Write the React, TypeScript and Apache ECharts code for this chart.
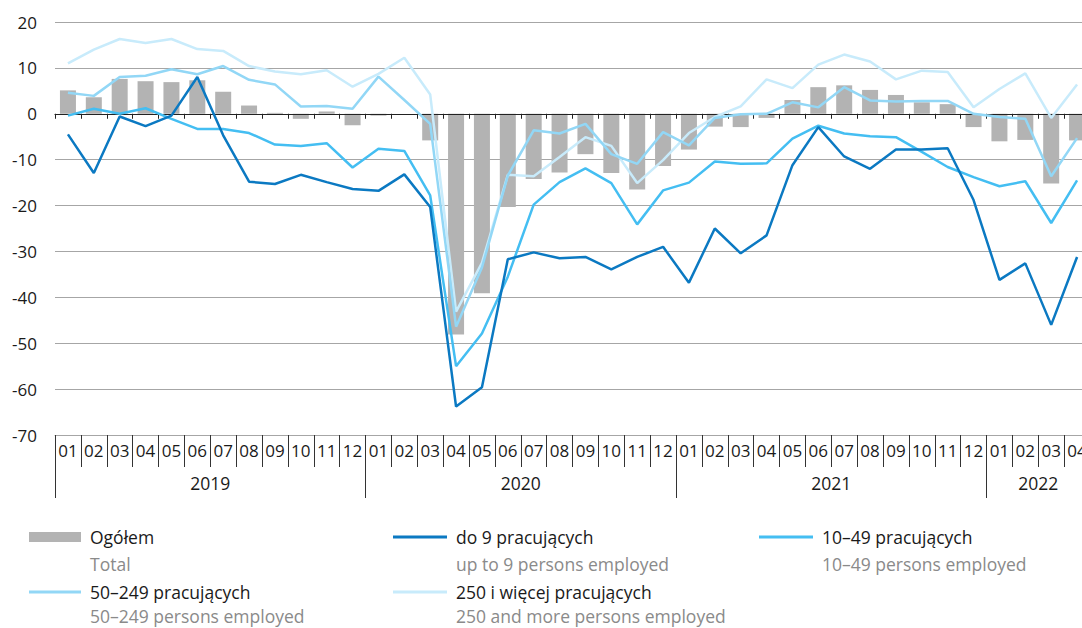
import React, { useEffect, useRef } from "react";
import * as echarts from "echarts";

const FONT = "'Open Sans', 'Noto Sans', sans-serif";

const months = [
  "01", "02", "03", "04", "05", "06", "07", "08", "09", "10", "11", "12",
  "01", "02", "03", "04", "05", "06", "07", "08", "09", "10", "11", "12",
  "01", "02", "03", "04", "05", "06", "07", "08", "09", "10", "11", "12",
  "01", "02", "03", "04",
];
const yearNames = ["2019", "2020", "2021", "2022"];
const yearCenters = [6, 18, 30, 38];
const yearBounds = [0, 12, 24, 36];

const totalAll = [
  5.1, 3.6, 7.6, 7.1, 6.9, 7.3, 4.8, 1.8, 0.2, -1.1, 0.5, -2.5,
  -0.4, 0, -5.8, -48.1, -39.1, -20.3, -14.2, -12.8, -8.8, -12.9, -16.5, -11.4,
  -7.8, -2.8, -2.9, -0.9, 3.0, 5.8, 6.2, 5.2, 4.1, 2.5, 2.1, -2.9,
  -6.0, -5.7, -15.2, -5.8,
];
const upTo9 = [
  -4.5, -12.9, -0.6, -2.7, -0.4, 8.0, -4.7, -14.8, -15.3, -13.3, -14.9, -16.4,
  -16.8, -13.2, -20.3, -63.8, -59.6, -31.7, -30.2, -31.5, -31.2, -33.9, -31.2, -29.0,
  -36.8, -25.0, -30.4, -26.5, -11.2, -2.9, -9.3, -12.0, -7.8, -7.8, -7.5, -18.8,
  -36.2, -32.6, -46.0, -31.2,
];
const from10to49 = [
  -0.4, 1.1, 0, 1.2, -1.1, -3.3, -3.3, -4.2, -6.7, -7.0, -6.4, -11.7,
  -7.6, -8.1, -17.8, -55.0, -47.9, -35.5, -19.8, -14.9, -11.9, -15.1, -24.1, -16.7,
  -15.0, -10.4, -10.9, -10.8, -5.4, -2.6, -4.3, -4.9, -5.1, -8.3, -11.6, -13.8,
  -15.8, -14.7, -23.8, -14.5,
];
const from50to249 = [
  4.6, 3.9, 8.0, 8.3, 9.7, 8.6, 10.4, 7.4, 6.4, 1.6, 1.7, 1.1,
  8.1, 3.0, -2.2, -46.4, -33.5, -13.5, -3.6, -4.3, -2.2, -8.8, -10.9, -4.0,
  -6.9, -0.9, -0.1, 0, 2.5, 1.4, 5.8, 2.9, 2.7, 2.8, 2.8, 0,
  -0.7, -1.1, -13.6, -5.3,
];
const from250 = [
  11.0, 14.0, 16.3, 15.4, 16.3, 14.1, 13.7, 10.4, 9.2, 8.6, 9.5, 5.9,
  8.7, 12.2, 4.2, -43.1, -32.5, -13.3, -13.6, -9.4, -5.1, -7.0, -15.1, -10.1,
  -4.2, -0.7, 1.6, 7.5, 5.6, 10.7, 12.9, 11.4, 7.5, 9.4, 9.1, 1.4,
  5.4, 8.8, -0.9, 6.4,
];

const NAMES = {
  total: "Ogółem",
  s9: "do 9 pracujących",
  s49: "10–49 pracujących",
  s249: "50–249 pracujących",
  s250: "250 i więcej pracujących",
};
const subtitles = [
  "Total",
  "up to 9 persons employed",
  "10–49 persons employed",
  "50–249 persons employed",
  "250 and more persons employed",
];

const COLORS = {
  total: "#b3b3b3",
  s9: "#0b79c2",
  s49: "#44bef2",
  s249: "#92d7f6",
  s250: "#c8ebfb",
};

export default function App() {
  const ref = useRef<HTMLDivElement>(null);

  useEffect(() => {
    if (!ref.current) return;
    const chart = echarts.init(ref.current, undefined, { renderer: "svg" });

    const legendText = {
      fontFamily: FONT,
      fontSize: 17.5,
      color: "#1a1a1a",
      lineHeight: 20,
      padding: [0, 0, 0, 4],
    };
    const legendBase = {
      padding: 0,
      selectedMode: false,
      icon: "rect",
      textStyle: legendText,
    };
    const lineSeries = (name: string, data: number[], color: string, z: number) => ({
      type: "line",
      name,
      data,
      xAxisIndex: 0,
      yAxisIndex: 0,
      symbol: "none",
      lineStyle: { color, width: 2.5 },
      itemStyle: { color },
      z,
    });

    const sub = (text: string, x: number, y: number) => ({
      type: "text",
      x,
      y,
      style: {
        text,
        fontFamily: FONT,
        fontSize: 17.5,
        fill: "#8a8a8a",
        verticalAlign: "middle",
      },
    });

    chart.setOption({
      animation: false,
      textStyle: { fontFamily: FONT },
      grid: { left: 55, right: 0, top: 22, bottom: 193, containLabel: false },
      xAxis: [
        {
          type: "category",
          data: months,
          position: "bottom",
          z: 5,
          axisLine: { onZero: true, lineStyle: { color: "#222", width: 1.2 } },
          axisTick: { show: true, interval: 0, length: 5, lineStyle: { color: "#222" } },
          axisLabel: { show: false },
          splitLine: { show: false },
        },
        {
          type: "category",
          data: months,
          position: "bottom",
          axisLine: { onZero: false, lineStyle: { color: "#a6a6a6" } },
          axisTick: { show: true, interval: 0, length: 32, lineStyle: { color: "#333" } },
          axisLabel: { interval: 0, margin: 7, fontSize: 17, color: "#1a1a1a", fontFamily: FONT },
          splitLine: { show: false },
        },
        {
          type: "value",
          min: 0,
          max: 40,
          position: "bottom",
          axisLine: { show: false, onZero: false },
          splitLine: { show: false },
          axisTick: {
            show: true,
            customValues: yearBounds,
            length: 63,
            lineStyle: { color: "#333" },
          },
          axisLabel: {
            customValues: yearCenters,
            formatter: (v: number) => yearNames[yearCenters.indexOf(v)] ?? "",
            margin: 39,
            fontSize: 17.5,
            color: "#1a1a1a",
            fontFamily: FONT,
          },
        },
      ],
      yAxis: {
        type: "value",
        min: -70,
        max: 20,
        interval: 10,
        axisLine: { show: false },
        axisTick: { show: false },
        axisLabel: { fontSize: 17, color: "#1a1a1a", margin: 18, fontFamily: FONT },
        splitLine: { lineStyle: { color: "#a6a6a6", width: 1 } },
      },
      legend: [
        { ...legendBase, data: [NAMES.total], left: 29, top: 527, itemWidth: 52, itemHeight: 10 },
        { ...legendBase, data: [NAMES.s9], left: 393, top: 527, itemWidth: 54, itemHeight: 3 },
        { ...legendBase, data: [NAMES.s49], left: 759, top: 527, itemWidth: 54, itemHeight: 3 },
        { ...legendBase, data: [NAMES.s249], left: 29, top: 582, itemWidth: 52, itemHeight: 3 },
        { ...legendBase, data: [NAMES.s250], left: 393, top: 582, itemWidth: 54, itemHeight: 3 },
      ],
      graphic: [
        sub(subtitles[0], 90, 564),
        sub(subtitles[1], 456, 564),
        sub(subtitles[2], 822, 564),
        sub(subtitles[3], 90, 616),
        sub(subtitles[4], 456, 616),
      ],
      series: [
        {
          type: "bar",
          name: NAMES.total,
          data: totalAll,
          xAxisIndex: 0,
          yAxisIndex: 0,
          barWidth: 16,
          itemStyle: { color: COLORS.total },
          z: 2,
        },
        lineSeries(NAMES.s250, from250, COLORS.s250, 6),
        lineSeries(NAMES.s249, from50to249, COLORS.s249, 7),
        lineSeries(NAMES.s49, from10to49, COLORS.s49, 8),
        lineSeries(NAMES.s9, upTo9, COLORS.s9, 9),
      ],
    });

    return () => chart.dispose();
  }, []);

  return (
    <div
      style={{
        position: "absolute",
        left: 0,
        top: 0,
        width: 1082,
        height: 628,
        overflow: "hidden",
        background: "#fff",
      }}
    >
      <div ref={ref} style={{ width: 1090, height: 628 }} />
    </div>
  );
}
